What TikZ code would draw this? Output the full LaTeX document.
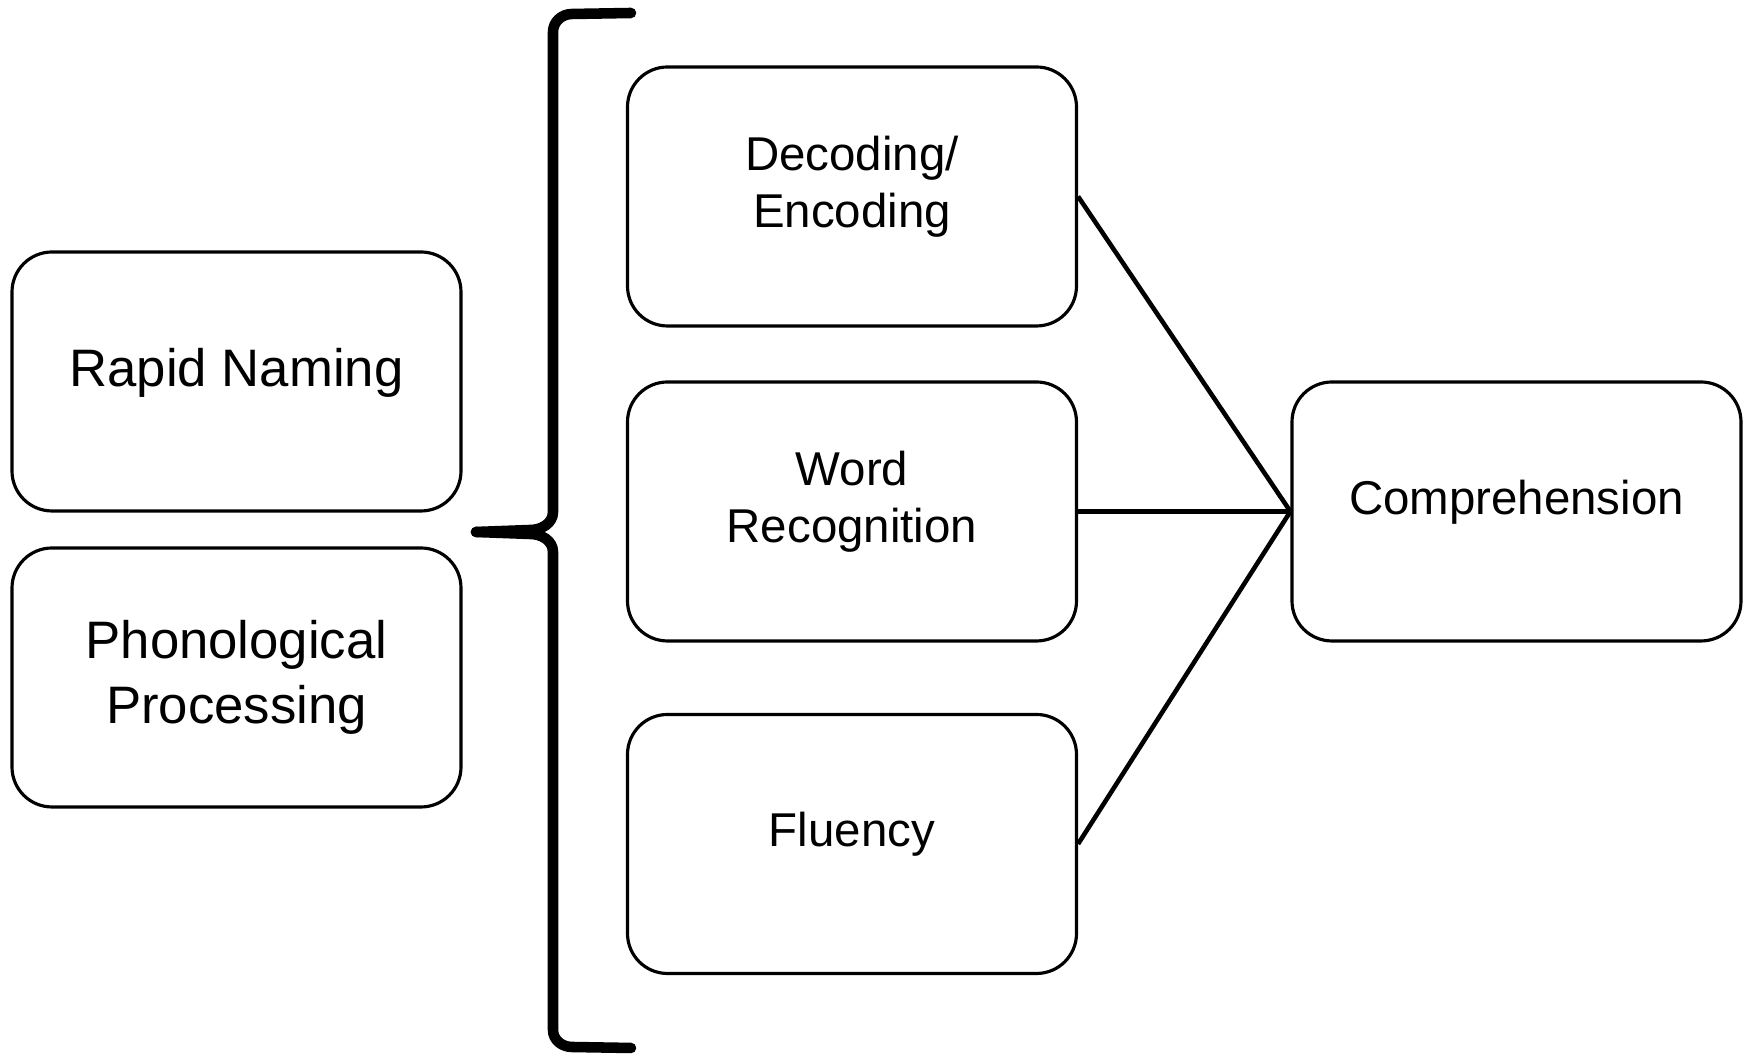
\documentclass[tikz,border=0pt]{standalone}
\usepackage{fontspec}
\setmainfont{Liberation Sans}
\usetikzlibrary{positioning}

\begin{document}
\begin{tikzpicture}[
        box/.style={draw, line width=0.9pt, rounded corners=0.4cm, minimum width=4.49cm, minimum height=2.59cm, align=center, text depth=0.29cm},
        bigtext/.style={font=\fontsize{15}{18.4}\selectfont},
        smalltext/.style={font=\fontsize{13.5}{16.2}\selectfont},
        link/.style={line width=1.3pt},
        bracket/.style={line width=3pt, line join=round, line cap=round}
    ]
        \useasboundingbox (0,0) rectangle (17.45,10.54);

        % Left side
        \node[box, bigtext] (rapid) at (2.365, 6.725) {Rapid Naming};
        \node[box, bigtext, text depth=0.11cm] (phon) at (2.365, 3.765) {Phonological\\Processing};

        % Brace
        \coordinate (tip) at (4.76, 5.22);
        \draw[bracket] (6.31,10.41) -- (5.72,10.40) to[out=180,in=90] (5.53,10.22)
            -- (5.53,5.42) to[out=-90,in=0] (5.30,5.24) -- (tip);
        \draw[bracket] (tip) -- (5.30,5.20) to[out=0,in=90] (5.53,5.02)
            -- (5.53,0.24) to[out=-90,in=180] (5.72,0.07) -- (6.31,0.06);

        % Middle column
        \node[box, smalltext] (decoding) at (8.52, 8.575) {Decoding/\\Encoding};
        \node[box, smalltext] (word) at (8.52, 5.425) {Word\\Recognition};
        \node[box, smalltext] (fluency) at (8.52, 2.10) {Fluency};

        % Right side
        \node[box, smalltext] (comp) at (15.165, 5.425) {Comprehension};

        % Lines
        \draw[link] (decoding.east) -- (comp.west);
        \draw[link] (word.east) -- (comp.west);
        \draw[link] (fluency.east) -- (comp.west);
    \end{tikzpicture}
\end{document}
